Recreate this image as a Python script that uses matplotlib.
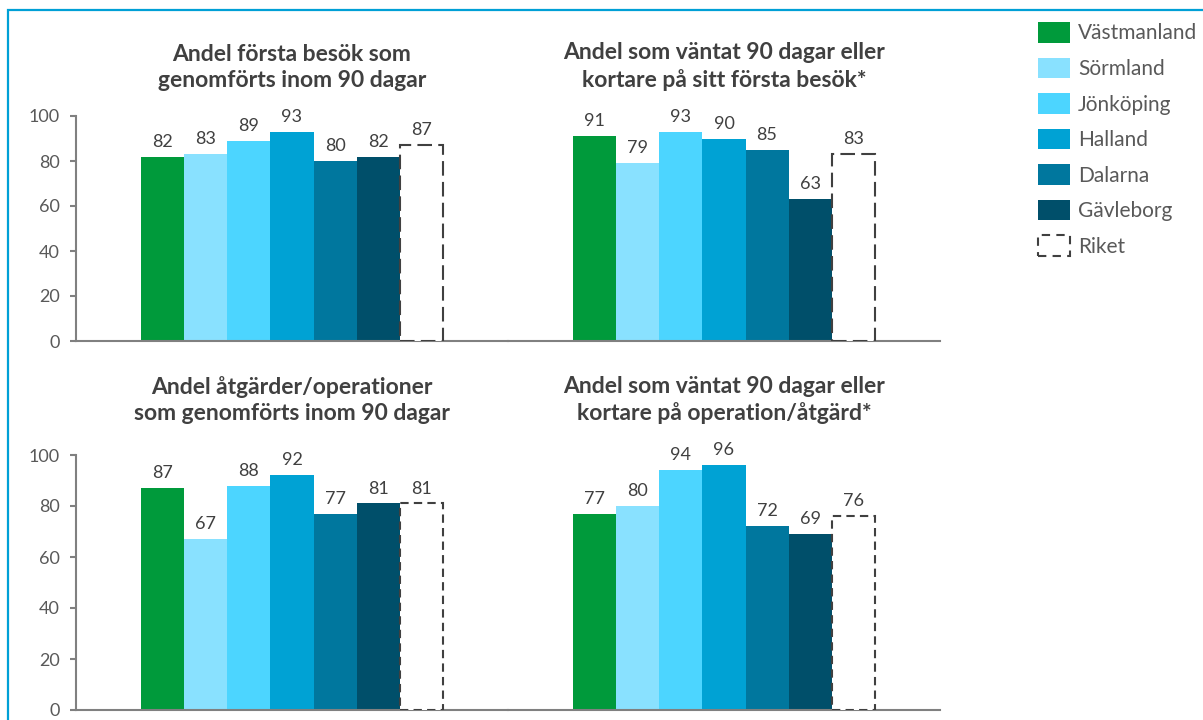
import matplotlib.pyplot as plt
from matplotlib.patches import Patch, Rectangle

plt.rcParams['font.family'] = ['Lato', 'DejaVu Sans']

regions = ['Västmanland', 'Sörmland', 'Jönköping', 'Halland', 'Dalarna', 'Gävleborg', 'Riket']
colors = ['#009A3B', '#89E1FF', '#4CD5FF', '#00A2D4', '#00779E', '#004F6A']

titles = [
    'Andel första besök som\ngenomförts inom 90 dagar',
    'Andel som väntat 90 dagar eller\nkortare på sitt första besök*',
    'Andel åtgärder/operationer\nsom genomförts inom 90 dagar',
    'Andel som väntat 90 dagar eller\nkortare på operation/åtgärd*',
]
forsta_besok_90 = [82, 83, 89, 93, 80, 82, 87]
vantat_besok_90 = [91, 79, 93, 90, 85, 63, 83]
atgarder_90 = [87, 67, 88, 92, 77, 81, 81]
vantat_atgard_90 = [77, 80, 94, 96, 72, 69, 76]
panels = [forsta_besok_90, vantat_besok_90, atgarder_90, vantat_atgard_90]

W, H = 1203, 720
TEXT = '#404040'
AXIS = '#808080'

fig = plt.figure(figsize=(W / 100, H / 100), dpi=100)

# outer frame, open at the right and bottom
fig.patches.append(Rectangle((8 / W, -0.1), 1.2, 1 - 10 / H + 0.1, transform=fig.transFigure,
                             fill=False, edgecolor='#00A0D6', linewidth=1.6))


def add_panel(left, top, right, bottom):
    return fig.add_axes([left / W, 1 - bottom / H, (right - left) / W, (bottom - top) / H])


boxes = [(76, 116, 508, 341), (508, 116, 940, 341),
         (76, 455, 508, 710), (508, 455, 940, 710)]
title_pads = [21, 21, 25, 25]
dash_styles = [(0, (7, 3)), (0, (7, 3)), (0, (4, 2.5)), (0, (4, 2.5))]

for i, (vals, box) in enumerate(zip(panels, boxes)):
    ax = add_panel(*box)
    x = list(range(len(vals)))
    ax.bar(x[:-1], vals[:-1], width=1.0, color=colors, linewidth=0)
    ax.bar(x[-1], vals[-1], width=1.0, facecolor='white', edgecolor=TEXT,
           linewidth=1.5, linestyle=dash_styles[i], zorder=3)
    for xi, v in zip(x, vals):
        ax.annotate(f'{v}', (xi, v), xytext=(0, 5), textcoords='offset points',
                    ha='center', va='bottom', fontsize=13, color=TEXT)

    ax.set_xlim(-2.02, 8.02)
    ax.set_ylim(0, 100)
    ax.set_xticks([])
    ax.set_title(titles[i], fontsize=16.5, fontweight='bold', color=TEXT,
                 linespacing=1.3, pad=title_pads[i])
    for s in ['top', 'right']:
        ax.spines[s].set_visible(False)
    ax.spines['bottom'].set_color(AXIS)
    ax.spines['bottom'].set_linewidth(1.5)
    if i % 2 == 0:
        ax.spines['left'].set_color(AXIS)
        ax.spines['left'].set_linewidth(1.5)
        ax.set_yticks(range(0, 101, 20))
        ax.tick_params(axis='y', length=4.5, width=1.5, color=AXIS, labelcolor='#595959',
                       labelsize=13, pad=7)
    else:
        ax.spines['left'].set_visible(False)
        ax.set_yticks([])
    ax.patch.set_alpha(0)

handles = [Patch(facecolor=c, edgecolor='none') for c in colors]
handles.append(Patch(facecolor='white', edgecolor=TEXT, linewidth=1.5, linestyle=(0, (4, 3))))
fig.legend(handles, regions, loc='upper left', bbox_to_anchor=(1038 / W, 1 - 22 / H),
           frameon=False, borderpad=0, borderaxespad=0, fontsize=15,
           handlelength=1.54, handleheight=1.15, labelspacing=0.68, handletextpad=0.38,
           labelcolor='#595959')

fig.savefig('out.png', dpi=100)
